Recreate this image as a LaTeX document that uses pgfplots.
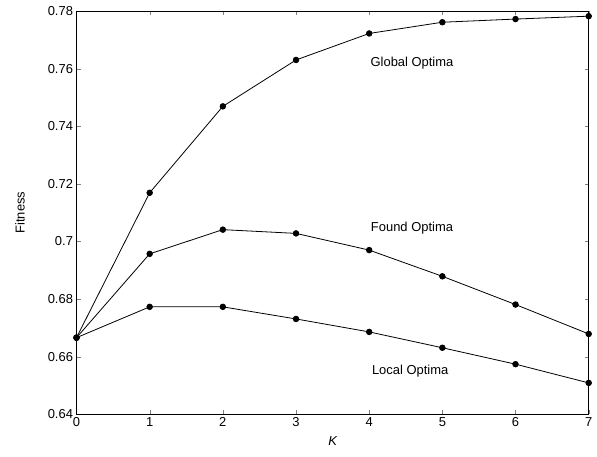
\documentclass[border=0pt]{standalone}
\usepackage{fontspec}
\setmainfont{Liberation Sans}
\usepackage{pgfplots}
\pgfplotsset{compat=1.18}

\pgfplotsset{
	optline/.style={black, solid, line width=0.8bp, mark=*, mark size=2.8bp, mark options={black, fill=black, solid}},
}

\begin{document}
\begin{tikzpicture}
	\begin{axis}[
		at={(76.5bp,42.7bp)}, anchor=south west,
		scale only axis,
		width=512.2bp, height=403.3bp,
		xmin=0, xmax=7,
		ymin=0.64, ymax=0.78,
		xtick={0,1,2,3,4,5,6,7},
		ytick={0.64,0.66,0.68,0.70,0.72,0.74,0.76,0.78},
		yticklabels={0.64,0.66,0.68,0.7,0.72,0.74,0.76,0.78},
		tick align=inside,
		major tick length=4bp,
		/pgf/number format/assume math mode=true,
		tick label style={font=\fontsize{13}{13}\selectfont},
		label style={font=\fontsize{13}{13}\selectfont},
		xlabel={\itshape K},
		ylabel={Fitness},
		xlabel style={at={([yshift=-26.7bp]axis description cs:0.5,0)}, anchor=center},
		ylabel style={at={([xshift=-56.5bp]axis description cs:0,0.5)}, anchor=center},
		axis line style={line width=0.9bp},
		clip=false,
	]

	% global optima
	\addplot[optline] coordinates {
		(0,0.6666) (1,0.7169) (2,0.7469) (3,0.7630)
		(4,0.7722) (5,0.7761) (6,0.7772) (7,0.7782)
	};
	% found optima
	\addplot[optline] coordinates {
		(0,0.6666) (1,0.6957) (2,0.7041) (3,0.7028)
		(4,0.6970) (5,0.6879) (6,0.6781) (7,0.6679)
	};
	% local optima
	\addplot[optline] coordinates {
		(0,0.6666) (1,0.6773) (2,0.6773) (3,0.6731)
		(4,0.6686) (5,0.6631) (6,0.6574) (7,0.6509)
	};

	\node[anchor=base, font=\fontsize{13}{13}\selectfont] at (axis cs:4.585,0.7609) {Global Optima};
	\node[anchor=base, font=\fontsize{13}{13}\selectfont] at (axis cs:4.585,0.7036) {Found Optima};
	\node[anchor=base, font=\fontsize{13}{13}\selectfont] at (axis cs:4.56,0.6539) {Local Optima};
	\end{axis}
	\pgfresetboundingbox
	\path (0,0) rectangle (597bp,457bp);
\end{tikzpicture}
\end{document}
